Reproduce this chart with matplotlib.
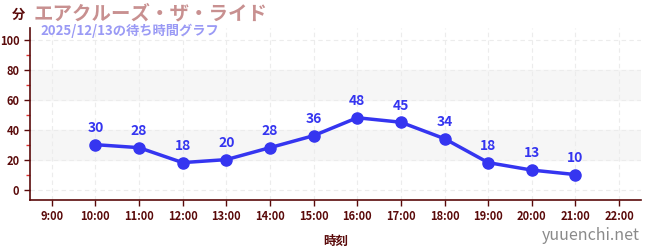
import matplotlib
matplotlib.use("Agg")
import matplotlib.pyplot as plt
from matplotlib.ticker import MultipleLocator

plt.rcParams['font.family'] = ['Noto Sans CJK JP', 'DejaVu Sans']

# data
hours = [10, 11, 12, 13, 14, 15, 16, 17, 18, 19, 20, 21]
waits = [30, 28, 18, 20, 28, 36, 48, 45, 34, 18, 13, 10]
xtick_hours = list(range(9, 23))
xtick_labels = [f"{h}:00" for h in xtick_hours]

title = "エアクルーズ・ザ・ライド"
subtitle = "2025/12/13の待ち時間グラフ"

axis_color = "#5a0a0a"
line_color = "#3535f0"

fig = plt.figure(figsize=(6.5, 2.5), dpi=100)
ax = fig.add_axes([0.046, 0.2, 0.94, 0.688])

ax.axhspan(20, 40, color="#f6f6f6", zorder=0)
ax.axhspan(60, 80, color="#f6f6f6", zorder=0)

ax.plot(hours, waits, color=line_color, lw=2.5, marker="o", ms=8, zorder=3)
for h, w in zip(hours, waits):
    ax.annotate(str(w), (h, w), xytext=(0, 7), textcoords="offset points",
                ha="center", va="bottom", color=line_color, fontsize=10,
                fontweight="bold")

ax.set_xlim(8.5, 22.5)
ax.set_ylim(-7, 108)
ax.set_xticks(xtick_hours)
ax.set_xticklabels(xtick_labels)
ax.set_yticks(range(0, 101, 20))
ax.yaxis.set_minor_locator(MultipleLocator(10))

ax.grid(True, which="major", color="#ececec", linestyle=(0, (4, 3)), lw=0.8)
ax.set_axisbelow(True)

for s in ["top", "right"]:
    ax.spines[s].set_visible(False)
for s in ["left", "bottom"]:
    ax.spines[s].set_color(axis_color)
    ax.spines[s].set_linewidth(1.2)

ax.tick_params(axis="both", which="major", colors=axis_color, labelsize=8,
               length=4, width=1)
ax.tick_params(axis="y", which="minor", colors="#e03030", length=3, width=1)
for lab in ax.get_xticklabels() + ax.get_yticklabels():
    lab.set_fontweight("bold")
    lab.set_color(axis_color)

ax.set_xlabel("時刻", color=axis_color, fontsize=9, fontweight="bold", labelpad=8)

fig.text(0.018, 0.94, "分", color=axis_color, fontsize=9.5, fontweight="bold",
         ha="left", va="center")
fig.text(0.052, 0.945, title, color="#c89090", fontsize=14, fontweight="bold",
         ha="left", va="center")
fig.text(0.062, 0.875, subtitle, color="#9a9af5", fontsize=9.5, fontweight="bold",
         ha="left", va="center")
fig.text(0.985, 0.06, "yuuenchi.net", color="#8a8a8a", fontsize=11.5,
         ha="right", va="center")

fig.savefig("out.png", dpi=100)
